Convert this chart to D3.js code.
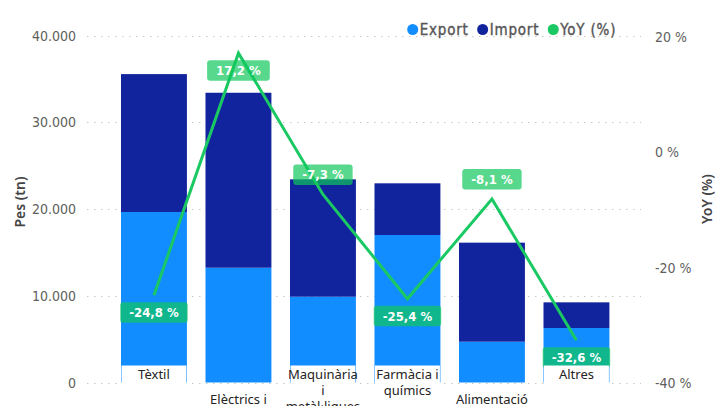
<!DOCTYPE html>
<html>
<head>
<meta charset="utf-8">
<script src="https://cdn.jsdelivr.net/npm/d3@7/dist/d3.min.js"></script>
<style>
  body { margin: 0; background: #fff; }
  .din { font-family: "DejaVu Sans Condensed", "DejaVu Sans", sans-serif; font-stretch: condensed; }
  .cat { font-family: "Noto Sans", sans-serif; }
</style>
</head>
<body>
<svg id="chart" width="716" height="406"></svg>
<script>
// data
var categories = [
  ["Tèxtil"],
  ["Elèctrics i", "electrònics"],
  ["Maquinària", "i", "metàl·liques"],
  ["Farmàcia i", "químics"],
  ["Alimentació"],
  ["Altres"]
];
var exportVals = [19650, 13230, 9890, 17000, 4700, 6280];
var importVals = [15900, 20170, 13530, 5960, 11420, 2960];
var yoyVals = [-24.8, 17.2, -7.3, -25.4, -8.1, -32.6];
var leftTicks = [0, 10000, 20000, 30000, 40000];
var rightTicks = [-40, -20, 0, 20];
var seriesNames = ["Export", "Import", "YoY (%)"];

// layout helpers (which row the axis label sits on, where the data label goes)
var labelRow = [0, 1, 0, 0, 1, 0];
var labelPos = ["below", "below", "above", "below", "above", "below"];

var colors = ["#118DFF", "#12239E", "#1AC963"];

var ca = d3.formatLocale({decimal: ",", thousands: ".", grouping: [3], currency: ["", "€"], minus: "-"});
var fmtThousands = ca.format(",.0f");
var fmtPct = ca.format(".1f");

var svg = d3.select("#chart");

var x = d3.scaleBand()
  .domain(d3.range(categories.length))
  .range([111.7, 618.7])
  .paddingInner(0.22)
  .paddingOuter(0.11);

var y = d3.scaleLinear().domain([0, 40000]).range([382.5, 35.5]);
var y2 = d3.scaleLinear().domain([-40, 20]).range([383, 37]);

// gridlines
svg.append("g").selectAll("line")
  .data(leftTicks)
  .enter().append("line")
  .attr("x1", 87).attr("x2", 641)
  .attr("y1", function(d) { return Math.round(y(d)) + 0.5; })
  .attr("y2", function(d) { return Math.round(y(d)) + 0.5; })
  .attr("stroke", "#c8c8c8")
  .attr("stroke-width", 1)
  .attr("stroke-dasharray", "1.5,5.5");

// left axis labels
svg.append("g").selectAll("text")
  .data(leftTicks)
  .enter().append("text")
  .attr("class", "din")
  .attr("x", 76)
  .attr("y", function(d) { return y(d); })
  .attr("dy", "0.36em")
  .attr("text-anchor", "end")
  .attr("font-size", "14px")
  .attr("fill", "#605E5C")
  .text(function(d) { return fmtThousands(d); });

// right axis labels
svg.append("g").selectAll("text")
  .data(rightTicks)
  .enter().append("text")
  .attr("class", "din")
  .attr("x", 655)
  .attr("y", function(d) { return y2(d); })
  .attr("dy", "0.36em")
  .attr("font-size", "14px")
  .attr("fill", "#605E5C")
  .text(function(d) { return fmtPct(d).replace(",0", "") + " %"; });

// axis titles
svg.append("text")
  .attr("class", "cat")
  .attr("transform", "translate(25,202) rotate(-90)")
  .attr("text-anchor", "middle")
  .attr("font-size", "14px")
  .attr("font-weight", 600)
  .attr("fill", "#444")
  .text("Pes (tn)");

svg.append("text")
  .attr("class", "cat")
  .attr("transform", "translate(712,199) rotate(-90)")
  .attr("text-anchor", "middle")
  .attr("font-size", "14px")
  .attr("font-weight", 600)
  .attr("fill", "#444")
  .text("YoY (%)");

// stacked bars
var stackData = categories.map(function(c, i) { return {i: i, exp: exportVals[i], imp: importVals[i]}; });
var stack = d3.stack().keys(["exp", "imp"]);
var layers = stack(stackData);

svg.append("g").selectAll("g")
  .data(layers)
  .enter().append("g")
  .attr("fill", function(d, k) { return colors[k]; })
  .selectAll("rect")
  .data(function(d) { return d; })
  .enter().append("rect")
  .attr("x", function(d) { return x(d.data.i); })
  .attr("width", x.bandwidth())
  .attr("y", function(d) { return y(d[1]); })
  .attr("height", function(d) { return y(d[0]) - y(d[1]); });

// YoY line
var line = d3.line()
  .x(function(d, i) { return x(i) + x.bandwidth() / 2; })
  .y(function(d) { return y2(d); });

svg.append("path")
  .datum(yoyVals)
  .attr("d", line)
  .attr("fill", "none")
  .attr("stroke", colors[2])
  .attr("stroke-width", 3)
  .attr("stroke-linejoin", "miter");

// data labels
var lbl = svg.append("g").selectAll("g")
  .data(yoyVals)
  .enter().append("g");

lbl.each(function(d, i) {
  var g = d3.select(this);
  var cx = x(i) + x.bandwidth() / 2;
  var py = y2(d);
  var h = 20.5;
  var top = labelPos[i] == "below" ? py + 7 : py - 9.5 - h;
  var t = g.append("text")
    .attr("class", "din")
    .attr("x", cx)
    .attr("y", top + h / 2)
    .attr("dy", "0.36em")
    .attr("text-anchor", "middle")
    .attr("font-size", "13px")
    .attr("font-weight", "bold")
    .attr("fill", "#fff")
    .text(fmtPct(d) + " %");
  var w = t.node().getComputedTextLength() + 18;
  g.insert("rect", "text")
    .attr("x", cx - w / 2)
    .attr("y", top)
    .attr("width", w)
    .attr("height", h)
    .attr("rx", 3)
    .attr("fill", "#10C75B")
    .attr("fill-opacity", 0.7);
});

// category labels
var cats = svg.append("g").selectAll("g")
  .data(categories)
  .enter().append("g");

cats.filter(function(d, i) { return labelRow[i] == 0; })
  .append("rect")
  .attr("x", function(d) { return x(categories.indexOf(d)) + 0.5; })
  .attr("width", x.bandwidth() - 1)
  .attr("y", 365.5)
  .attr("height", 45)
  .attr("fill", "#fff");

cats.each(function(d, i) {
  var t = d3.select(this).append("text")
    .attr("class", "cat")
    .attr("text-anchor", "middle")
    .attr("font-size", "13px")
    .attr("fill", "#252423");
  d.forEach(function(s, k) {
    t.append("tspan")
      .attr("x", x(i) + x.bandwidth() / 2)
      .attr("y", (labelRow[i] == 0 ? 379 : 404) + k * 16)
      .text(s);
  });
});

// legend
var lx = 412.7;
var leg = svg.append("g");
seriesNames.forEach(function(name, k) {
  leg.append("circle")
    .attr("cx", lx).attr("cy", 29.5).attr("r", 5.5)
    .attr("fill", colors[k]);
  var t = leg.append("text")
    .attr("class", "din")
    .attr("x", lx + 7)
    .attr("y", 29.5)
    .attr("dy", "0.36em")
    .attr("font-size", "15px")
    .attr("letter-spacing", "0.8px")
    .attr("fill", "#555")
    .attr("stroke", "#555")
    .attr("stroke-width", 0.35)
    .text(name);
  lx = lx + 7 + t.node().getComputedTextLength() + 14;
});
</script>
</body>
</html>
